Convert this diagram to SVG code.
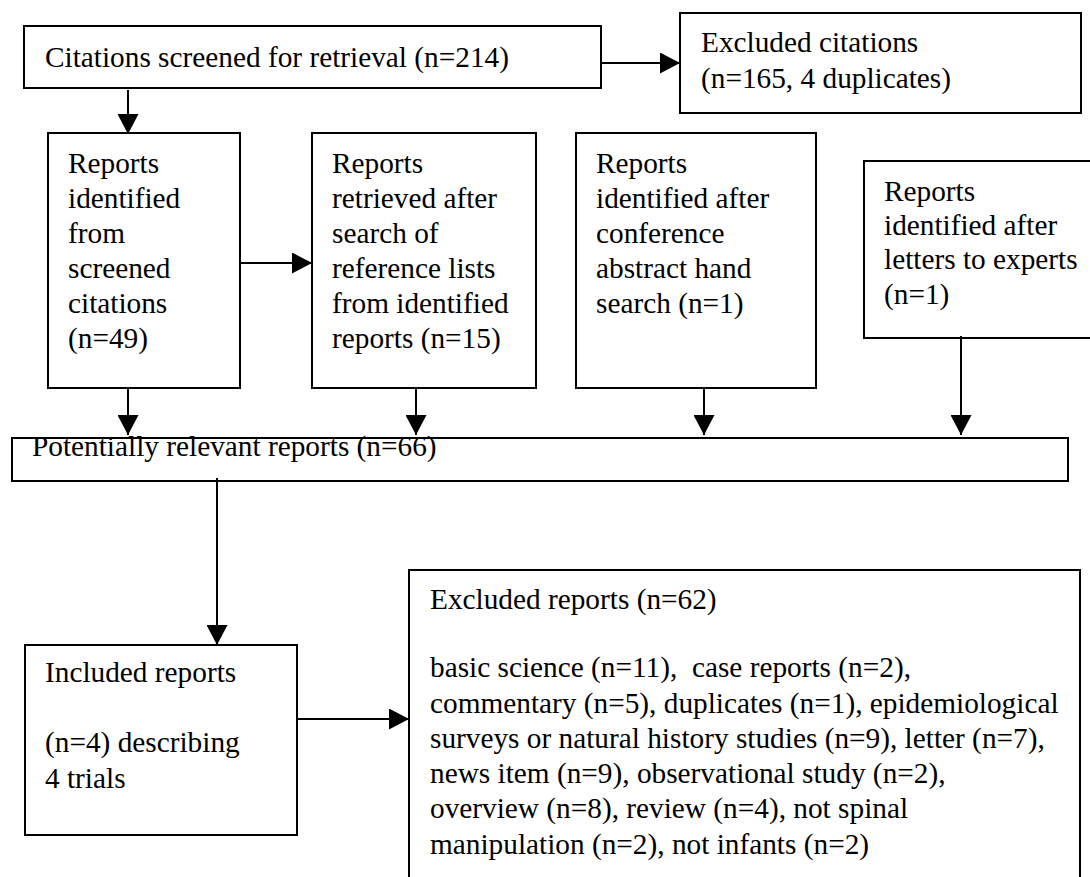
<svg xmlns="http://www.w3.org/2000/svg" width="1090" height="877" viewBox="0 0 1090 877" font-family="'Liberation Serif', serif" font-size="29.3">
<style>
.box{fill:#fff;stroke:#000;stroke-width:2}
.c{stroke:#000;stroke-width:2;fill:none}
</style>
<defs>
<marker id="ah" markerWidth="20" markerHeight="21" refX="20" refY="10.5" orient="auto" markerUnits="userSpaceOnUse">
<path d="M0,0 L20,10.5 L0,21 Z" fill="#000"/>
</marker>
</defs>
<rect width="1090" height="877" fill="#fff"/>
<g id="n1"><rect class="box" x="24" y="26" width="577" height="62"/>
<text x="45" y="67">Citations screened for retrieval (n=214)</text></g>
<g id="n2"><rect class="box" x="680" y="13" width="401" height="100"/>
<text x="701" y="52">Excluded citations</text>
<text x="701" y="88">(n=165, 4 duplicates)</text></g>
<g id="n3"><rect class="box" x="48" y="133" width="192" height="255"/>
<text x="68" y="173">Reports</text>
<text x="68" y="208">identified</text>
<text x="68" y="243">from</text>
<text x="68" y="278">screened</text>
<text x="68" y="313">citations</text>
<text x="68" y="348">(n=49)</text></g>
<g id="n4"><rect class="box" x="312" y="133" width="224" height="255"/>
<text x="332" y="173">Reports</text>
<text x="332" y="208">retrieved after</text>
<text x="332" y="243">search of</text>
<text x="332" y="278">reference lists</text>
<text x="332" y="313">from identified</text>
<text x="332" y="348">reports (n=15)</text></g>
<g id="n5"><rect class="box" x="576" y="133" width="240" height="255"/>
<text x="596" y="173">Reports</text>
<text x="596" y="208">identified after</text>
<text x="596" y="243">conference</text>
<text x="596" y="278">abstract hand</text>
<text x="596" y="313">search (n=1)</text></g>
<g id="n6"><rect class="box" x="864" y="161" width="232" height="177"/>
<text x="884" y="201">Reports</text>
<text x="884" y="235">identified after</text>
<text x="884" y="269">letters to experts</text>
<text x="884" y="304">(n=1)</text></g>
<g id="n7"><rect class="box" x="12" y="438" width="1056" height="43"/>
<text x="32" y="456">Potentially relevant reports (n=66)</text></g>
<g id="n8"><rect class="box" x="25" y="645" width="272" height="190"/>
<text x="45" y="682">Included reports</text>
<text x="45" y="752">(n=4) describing</text>
<text x="45" y="788">4 trials</text></g>
<g id="n9"><rect class="box" x="409" y="570" width="671" height="320"/>
<text x="430" y="609">Excluded reports (n=62)</text>
<text x="430" y="677" xml:space="preserve">basic science (n=11),  case reports (n=2),</text>
<text x="430" y="713">commentary (n=5), duplicates (n=1), epidemiological</text>
<text x="430" y="748">surveys or natural history studies (n=9), letter (n=7),</text>
<text x="430" y="783">news item (n=9), observational study (n=2),</text>
<text x="430" y="818">overview (n=8), review (n=4), not spinal</text>
<text x="430" y="854">manipulation (n=2), not infants (n=2)</text></g>
<g id="connectors">
<line class="c" x1="601" y1="63" x2="680" y2="63" marker-end="url(#ah)"/>
<line class="c" x1="128" y1="90" x2="128" y2="134" marker-end="url(#ah)"/>
<line class="c" x1="240" y1="263" x2="312" y2="263" marker-end="url(#ah)"/>
<line class="c" x1="128" y1="388" x2="128" y2="435" marker-end="url(#ah)"/>
<line class="c" x1="416" y1="388" x2="416" y2="435" marker-end="url(#ah)"/>
<line class="c" x1="704" y1="388" x2="704" y2="435" marker-end="url(#ah)"/>
<line class="c" x1="961" y1="336" x2="961" y2="435" marker-end="url(#ah)"/>
<line class="c" x1="217" y1="478" x2="217" y2="645" marker-end="url(#ah)"/>
<line class="c" x1="297" y1="719" x2="409" y2="719" marker-end="url(#ah)"/>
</g>
</svg>
